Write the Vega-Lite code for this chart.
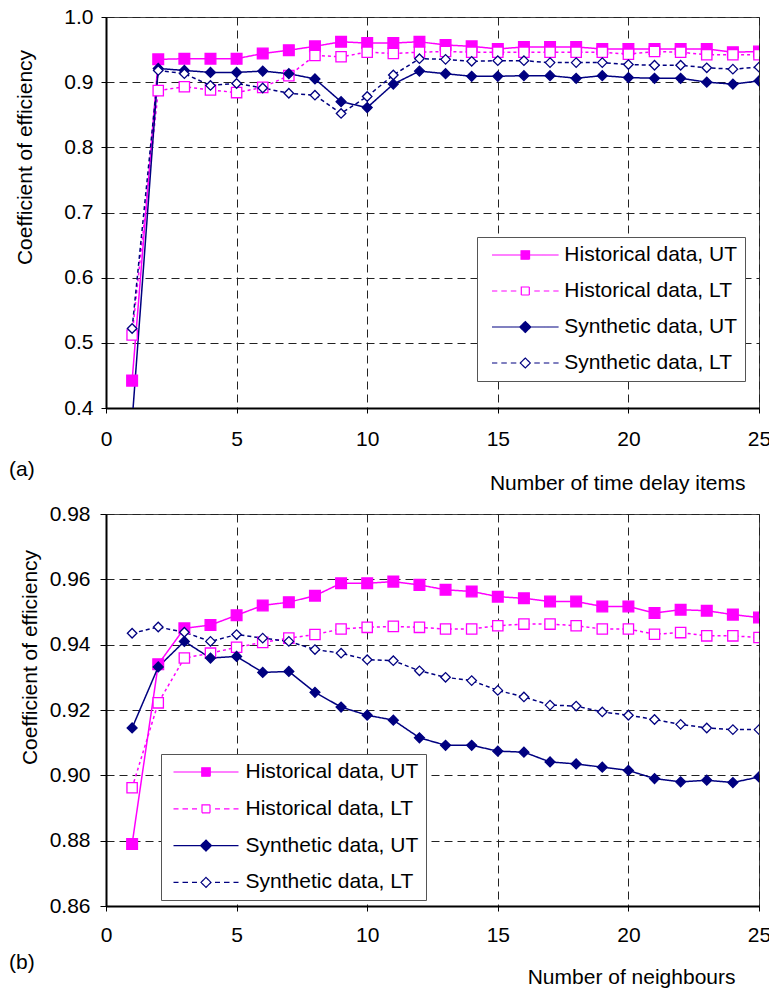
{
  "$schema": "https://vega.github.io/schema/vega-lite/v6.json",
  "background": "white",
  "padding": {"left": 8, "top": 5, "right": 0, "bottom": 0},
  "spacing": 8,
  "bounds": "full",
  "config": {
    "font": "Liberation Sans",
    "view": {"stroke": "#444", "strokeWidth": 1},
    "axis": {
      "labelFontSize": 21,
      "labelColor": "black",
      "titleFontSize": 21,
      "titleFontWeight": "normal",
      "titleColor": "black",
      "domainColor": "black",
      "domainWidth": 2,
      "tickColor": "black",
      "tickWidth": 1,
      "tickSize": 5,
      "grid": true,
      "gridColor": "#222",
      "gridDash": [8, 5],
      "gridWidth": 1,
      "labelFlush": false,
      "labelOverlap": false
    },
    "title": {"fontSize": 21, "fontWeight": "normal", "color": "black"}
  },
  "resolve": {
    "scale": {"color": "independent", "shape": "independent", "strokeDash": "independent", "fill": "independent", "size": "independent"},
    "legend": {"color": "independent"}
  },
  "datasets": {
    "a": [
      {"series": "Historical data, UT", "x": 1, "y": 0.442},
      {"series": "Historical data, UT", "x": 2, "y": 0.935},
      {"series": "Historical data, UT", "x": 3, "y": 0.936},
      {"series": "Historical data, UT", "x": 4, "y": 0.936},
      {"series": "Historical data, UT", "x": 5, "y": 0.936},
      {"series": "Historical data, UT", "x": 6, "y": 0.944},
      {"series": "Historical data, UT", "x": 7, "y": 0.949},
      {"series": "Historical data, UT", "x": 8, "y": 0.955},
      {"series": "Historical data, UT", "x": 9, "y": 0.962},
      {"series": "Historical data, UT", "x": 10, "y": 0.960},
      {"series": "Historical data, UT", "x": 11, "y": 0.960},
      {"series": "Historical data, UT", "x": 12, "y": 0.962},
      {"series": "Historical data, UT", "x": 13, "y": 0.957},
      {"series": "Historical data, UT", "x": 14, "y": 0.955},
      {"series": "Historical data, UT", "x": 15, "y": 0.951},
      {"series": "Historical data, UT", "x": 16, "y": 0.954},
      {"series": "Historical data, UT", "x": 17, "y": 0.954},
      {"series": "Historical data, UT", "x": 18, "y": 0.954},
      {"series": "Historical data, UT", "x": 19, "y": 0.951},
      {"series": "Historical data, UT", "x": 20, "y": 0.951},
      {"series": "Historical data, UT", "x": 21, "y": 0.951},
      {"series": "Historical data, UT", "x": 22, "y": 0.951},
      {"series": "Historical data, UT", "x": 23, "y": 0.951},
      {"series": "Historical data, UT", "x": 24, "y": 0.946},
      {"series": "Historical data, UT", "x": 25, "y": 0.947},
      {"series": "Historical data, LT", "x": 1, "y": 0.512},
      {"series": "Historical data, LT", "x": 2, "y": 0.887},
      {"series": "Historical data, LT", "x": 3, "y": 0.893},
      {"series": "Historical data, LT", "x": 4, "y": 0.888},
      {"series": "Historical data, LT", "x": 5, "y": 0.884},
      {"series": "Historical data, LT", "x": 6, "y": 0.892},
      {"series": "Historical data, LT", "x": 7, "y": 0.910},
      {"series": "Historical data, LT", "x": 8, "y": 0.941},
      {"series": "Historical data, LT", "x": 9, "y": 0.939},
      {"series": "Historical data, LT", "x": 10, "y": 0.946},
      {"series": "Historical data, LT", "x": 11, "y": 0.944},
      {"series": "Historical data, LT", "x": 12, "y": 0.946},
      {"series": "Historical data, LT", "x": 13, "y": 0.947},
      {"series": "Historical data, LT", "x": 14, "y": 0.946},
      {"series": "Historical data, LT", "x": 15, "y": 0.946},
      {"series": "Historical data, LT", "x": 16, "y": 0.946},
      {"series": "Historical data, LT", "x": 17, "y": 0.946},
      {"series": "Historical data, LT", "x": 18, "y": 0.946},
      {"series": "Historical data, LT", "x": 19, "y": 0.946},
      {"series": "Historical data, LT", "x": 20, "y": 0.943},
      {"series": "Historical data, LT", "x": 21, "y": 0.947},
      {"series": "Historical data, LT", "x": 22, "y": 0.946},
      {"series": "Historical data, LT", "x": 23, "y": 0.942},
      {"series": "Historical data, LT", "x": 24, "y": 0.942},
      {"series": "Historical data, LT", "x": 25, "y": 0.942},
      {"series": "Synthetic data, UT", "x": 1, "y": 0.38},
      {"series": "Synthetic data, UT", "x": 2, "y": 0.921},
      {"series": "Synthetic data, UT", "x": 3, "y": 0.918},
      {"series": "Synthetic data, UT", "x": 4, "y": 0.915},
      {"series": "Synthetic data, UT", "x": 5, "y": 0.915},
      {"series": "Synthetic data, UT", "x": 6, "y": 0.917},
      {"series": "Synthetic data, UT", "x": 7, "y": 0.913},
      {"series": "Synthetic data, UT", "x": 8, "y": 0.905},
      {"series": "Synthetic data, UT", "x": 9, "y": 0.870},
      {"series": "Synthetic data, UT", "x": 10, "y": 0.861},
      {"series": "Synthetic data, UT", "x": 11, "y": 0.897},
      {"series": "Synthetic data, UT", "x": 12, "y": 0.917},
      {"series": "Synthetic data, UT", "x": 13, "y": 0.913},
      {"series": "Synthetic data, UT", "x": 14, "y": 0.909},
      {"series": "Synthetic data, UT", "x": 15, "y": 0.909},
      {"series": "Synthetic data, UT", "x": 16, "y": 0.910},
      {"series": "Synthetic data, UT", "x": 17, "y": 0.910},
      {"series": "Synthetic data, UT", "x": 18, "y": 0.906},
      {"series": "Synthetic data, UT", "x": 19, "y": 0.910},
      {"series": "Synthetic data, UT", "x": 20, "y": 0.907},
      {"series": "Synthetic data, UT", "x": 21, "y": 0.906},
      {"series": "Synthetic data, UT", "x": 22, "y": 0.906},
      {"series": "Synthetic data, UT", "x": 23, "y": 0.900},
      {"series": "Synthetic data, UT", "x": 24, "y": 0.897},
      {"series": "Synthetic data, UT", "x": 25, "y": 0.902},
      {"series": "Synthetic data, LT", "x": 1, "y": 0.522},
      {"series": "Synthetic data, LT", "x": 2, "y": 0.918},
      {"series": "Synthetic data, LT", "x": 3, "y": 0.913},
      {"series": "Synthetic data, LT", "x": 4, "y": 0.895},
      {"series": "Synthetic data, LT", "x": 5, "y": 0.898},
      {"series": "Synthetic data, LT", "x": 6, "y": 0.891},
      {"series": "Synthetic data, LT", "x": 7, "y": 0.883},
      {"series": "Synthetic data, LT", "x": 8, "y": 0.880},
      {"series": "Synthetic data, LT", "x": 9, "y": 0.852},
      {"series": "Synthetic data, LT", "x": 10, "y": 0.878},
      {"series": "Synthetic data, LT", "x": 11, "y": 0.911},
      {"series": "Synthetic data, LT", "x": 12, "y": 0.936},
      {"series": "Synthetic data, LT", "x": 13, "y": 0.935},
      {"series": "Synthetic data, LT", "x": 14, "y": 0.932},
      {"series": "Synthetic data, LT", "x": 15, "y": 0.933},
      {"series": "Synthetic data, LT", "x": 16, "y": 0.933},
      {"series": "Synthetic data, LT", "x": 17, "y": 0.930},
      {"series": "Synthetic data, LT", "x": 18, "y": 0.930},
      {"series": "Synthetic data, LT", "x": 19, "y": 0.930},
      {"series": "Synthetic data, LT", "x": 20, "y": 0.927},
      {"series": "Synthetic data, LT", "x": 21, "y": 0.926},
      {"series": "Synthetic data, LT", "x": 22, "y": 0.926},
      {"series": "Synthetic data, LT", "x": 23, "y": 0.922},
      {"series": "Synthetic data, LT", "x": 24, "y": 0.920},
      {"series": "Synthetic data, LT", "x": 25, "y": 0.923}
    ],
    "b": [
      {"series": "Historical data, UT", "x": 1, "y": 0.879},
      {"series": "Historical data, UT", "x": 2, "y": 0.934},
      {"series": "Historical data, UT", "x": 3, "y": 0.945},
      {"series": "Historical data, UT", "x": 4, "y": 0.946},
      {"series": "Historical data, UT", "x": 5, "y": 0.949},
      {"series": "Historical data, UT", "x": 6, "y": 0.952},
      {"series": "Historical data, UT", "x": 7, "y": 0.953},
      {"series": "Historical data, UT", "x": 8, "y": 0.955},
      {"series": "Historical data, UT", "x": 9, "y": 0.9588},
      {"series": "Historical data, UT", "x": 10, "y": 0.9588},
      {"series": "Historical data, UT", "x": 11, "y": 0.9593},
      {"series": "Historical data, UT", "x": 12, "y": 0.9583},
      {"series": "Historical data, UT", "x": 13, "y": 0.9568},
      {"series": "Historical data, UT", "x": 14, "y": 0.9563},
      {"series": "Historical data, UT", "x": 15, "y": 0.9547},
      {"series": "Historical data, UT", "x": 16, "y": 0.9542},
      {"series": "Historical data, UT", "x": 17, "y": 0.9532},
      {"series": "Historical data, UT", "x": 18, "y": 0.9532},
      {"series": "Historical data, UT", "x": 19, "y": 0.9517},
      {"series": "Historical data, UT", "x": 20, "y": 0.9517},
      {"series": "Historical data, UT", "x": 21, "y": 0.9497},
      {"series": "Historical data, UT", "x": 22, "y": 0.9507},
      {"series": "Historical data, UT", "x": 23, "y": 0.9504},
      {"series": "Historical data, UT", "x": 24, "y": 0.9492},
      {"series": "Historical data, UT", "x": 25, "y": 0.9483},
      {"series": "Historical data, LT", "x": 1, "y": 0.8962},
      {"series": "Historical data, LT", "x": 2, "y": 0.9222},
      {"series": "Historical data, LT", "x": 3, "y": 0.9359},
      {"series": "Historical data, LT", "x": 4, "y": 0.9374},
      {"series": "Historical data, LT", "x": 5, "y": 0.9392},
      {"series": "Historical data, LT", "x": 6, "y": 0.9407},
      {"series": "Historical data, LT", "x": 7, "y": 0.942},
      {"series": "Historical data, LT", "x": 8, "y": 0.9431},
      {"series": "Historical data, LT", "x": 9, "y": 0.9448},
      {"series": "Historical data, LT", "x": 10, "y": 0.9453},
      {"series": "Historical data, LT", "x": 11, "y": 0.9456},
      {"series": "Historical data, LT", "x": 12, "y": 0.9453},
      {"series": "Historical data, LT", "x": 13, "y": 0.9448},
      {"series": "Historical data, LT", "x": 14, "y": 0.9448},
      {"series": "Historical data, LT", "x": 15, "y": 0.9458},
      {"series": "Historical data, LT", "x": 16, "y": 0.9463},
      {"series": "Historical data, LT", "x": 17, "y": 0.9463},
      {"series": "Historical data, LT", "x": 18, "y": 0.9458},
      {"series": "Historical data, LT", "x": 19, "y": 0.9448},
      {"series": "Historical data, LT", "x": 20, "y": 0.9448},
      {"series": "Historical data, LT", "x": 21, "y": 0.9432},
      {"series": "Historical data, LT", "x": 22, "y": 0.9437},
      {"series": "Historical data, LT", "x": 23, "y": 0.9427},
      {"series": "Historical data, LT", "x": 24, "y": 0.9427},
      {"series": "Historical data, LT", "x": 25, "y": 0.9422},
      {"series": "Synthetic data, UT", "x": 1, "y": 0.9145},
      {"series": "Synthetic data, UT", "x": 2, "y": 0.9332},
      {"series": "Synthetic data, UT", "x": 3, "y": 0.941},
      {"series": "Synthetic data, UT", "x": 4, "y": 0.9359},
      {"series": "Synthetic data, UT", "x": 5, "y": 0.9364},
      {"series": "Synthetic data, UT", "x": 6, "y": 0.9315},
      {"series": "Synthetic data, UT", "x": 7, "y": 0.9318},
      {"series": "Synthetic data, UT", "x": 8, "y": 0.9254},
      {"series": "Synthetic data, UT", "x": 9, "y": 0.9209},
      {"series": "Synthetic data, UT", "x": 10, "y": 0.9184},
      {"series": "Synthetic data, UT", "x": 11, "y": 0.9169},
      {"series": "Synthetic data, UT", "x": 12, "y": 0.9115},
      {"series": "Synthetic data, UT", "x": 13, "y": 0.9092},
      {"series": "Synthetic data, UT", "x": 14, "y": 0.9092},
      {"series": "Synthetic data, UT", "x": 15, "y": 0.9074},
      {"series": "Synthetic data, UT", "x": 16, "y": 0.9071},
      {"series": "Synthetic data, UT", "x": 17, "y": 0.9041},
      {"series": "Synthetic data, UT", "x": 18, "y": 0.9035},
      {"series": "Synthetic data, UT", "x": 19, "y": 0.9025},
      {"series": "Synthetic data, UT", "x": 20, "y": 0.9015},
      {"series": "Synthetic data, UT", "x": 21, "y": 0.899},
      {"series": "Synthetic data, UT", "x": 22, "y": 0.898},
      {"series": "Synthetic data, UT", "x": 23, "y": 0.8985},
      {"series": "Synthetic data, UT", "x": 24, "y": 0.8978},
      {"series": "Synthetic data, UT", "x": 25, "y": 0.8995},
      {"series": "Synthetic data, LT", "x": 1, "y": 0.9435},
      {"series": "Synthetic data, LT", "x": 2, "y": 0.9454},
      {"series": "Synthetic data, LT", "x": 3, "y": 0.9438},
      {"series": "Synthetic data, LT", "x": 4, "y": 0.941},
      {"series": "Synthetic data, LT", "x": 5, "y": 0.9431},
      {"series": "Synthetic data, LT", "x": 6, "y": 0.942},
      {"series": "Synthetic data, LT", "x": 7, "y": 0.941},
      {"series": "Synthetic data, LT", "x": 8, "y": 0.9385},
      {"series": "Synthetic data, LT", "x": 9, "y": 0.9374},
      {"series": "Synthetic data, LT", "x": 10, "y": 0.9354},
      {"series": "Synthetic data, LT", "x": 11, "y": 0.9351},
      {"series": "Synthetic data, LT", "x": 12, "y": 0.932},
      {"series": "Synthetic data, LT", "x": 13, "y": 0.930},
      {"series": "Synthetic data, LT", "x": 14, "y": 0.929},
      {"series": "Synthetic data, LT", "x": 15, "y": 0.926},
      {"series": "Synthetic data, LT", "x": 16, "y": 0.924},
      {"series": "Synthetic data, LT", "x": 17, "y": 0.9215},
      {"series": "Synthetic data, LT", "x": 18, "y": 0.9212},
      {"series": "Synthetic data, LT", "x": 19, "y": 0.9194},
      {"series": "Synthetic data, LT", "x": 20, "y": 0.9184},
      {"series": "Synthetic data, LT", "x": 21, "y": 0.9171},
      {"series": "Synthetic data, LT", "x": 22, "y": 0.9156},
      {"series": "Synthetic data, LT", "x": 23, "y": 0.9145},
      {"series": "Synthetic data, LT", "x": 24, "y": 0.914},
      {"series": "Synthetic data, LT", "x": 25, "y": 0.914}
    ]
  },
  "vconcat": [
    {
      "width": 653,
      "height": 391,
      "data": {"name": "a"},
      "title": {"text": "(a)", "orient": "bottom", "anchor": "start", "frame": "bounds", "offset": -34, "dx": -5, "fontSize": 21},
      "encoding": {
        "x": {
          "field": "x", "type": "quantitative",
          "scale": {"domain": [0, 25], "nice": false, "zero": false},
          "axis": {"values": [0, 5, 10, 15, 20, 25], "title": "Number of time delay items", "titleX": 639, "titleY": 75, "titleAlign": "right", "titleBaseline": "middle", "labelPadding": 15}
        },
        "y": {
          "field": "y", "type": "quantitative",
          "scale": {"domain": [0.4, 1.0], "nice": false, "zero": false},
          "axis": {"values": [0.4, 0.5, 0.6, 0.7, 0.8, 0.9, 1.0], "format": ".1f", "title": "Coefficient of efficiency", "titleX": -81, "titleY": 140, "titleAngle": 270, "titleAlign": "center", "titleBaseline": "middle", "labelPadding": 8}
        },
        "color": {
          "field": "series", "type": "nominal",
          "scale": {"domain": ["Historical data, UT", "Historical data, LT", "Synthetic data, UT", "Synthetic data, LT"], "range": ["#FF00FF", "#FF00FF", "#000080", "#000080"]},
          "legend": {
            "orient": "none", "legendX": 371, "legendY": 220, "title": null, "direction": "vertical",
            "padding": 7.5, "strokeColor": "#555", "fillColor": "white",
            "labelFontSize": 21, "labelColor": "black", "labelLimit": 0,
            "symbolSize": 100, "symbolOffset": 30.3, "labelOffset": 28.5, "rowPadding": 14, "symbolStrokeWidth": 1.2,
            "encoding": {"symbols": {
              "shape": {"value": {"expr": "datum.value === 'Historical data, UT' ? 'M-6.66,0H6.66M-0.85,-0.85H0.85V0.85H-0.85Z' : datum.value === 'Historical data, LT' ? 'M-6.66,0H-5.6M-4.8,0H-3.7M-2.9,0H-1.8M1.8,0H2.9M3.7,0H4.8M5.6,0H6.66M-0.8,-0.8H0.8V0.8H-0.8Z' : datum.value === 'Synthetic data, UT' ? 'M-6.66,0H6.66M-1.1,0L0,-1.1L1.1,0L0,1.1Z' : 'M-6.66,0H-5.6M-4.8,0H-3.7M-2.9,0H-1.8M1.8,0H2.9M3.7,0H4.8M5.6,0H6.66M-1,0L0,-1L1,0L0,1Z'"}},
              "fill": {"value": {"expr": "datum.value === 'Historical data, UT' ? '#FF00FF' : datum.value === 'Synthetic data, UT' ? '#000080' : 'white'"}},
              "strokeDash": {"value": [1, 0]},
              "strokeWidth": {"value": 1.2},
              "opacity": {"value": 1},
              "fillOpacity": {"value": 1}
            }}
          }
        }
      },
      "layer": [
        {
          "mark": {"type": "line", "strokeWidth": 1.5, "clip": true},
          "encoding": {
            "strokeDash": {"field": "series", "type": "nominal", "legend": null,
              "scale": {"domain": ["Synthetic data, LT", "Synthetic data, UT", "Historical data, LT", "Historical data, UT"], "range": [[4, 3], [1, 0], [3, 3], [1, 0]]}}
          }
        },
        {
          "mark": {"type": "point", "clip": true, "strokeWidth": 1.3, "opacity": 1, "fillOpacity": 1},
          "encoding": {
            "shape": {"field": "series", "type": "nominal", "legend": null,
              "scale": {"domain": ["Synthetic data, LT", "Synthetic data, UT", "Historical data, LT", "Historical data, UT"], "range": ["diamond", "diamond", "square", "square"]}},
            "fill": {"field": "series", "type": "nominal", "legend": null,
              "scale": {"domain": ["Synthetic data, LT", "Synthetic data, UT", "Historical data, LT", "Historical data, UT"], "range": ["white", "#000080", "white", "#FF00FF"]}},
            "size": {"field": "series", "type": "nominal", "legend": null,
              "scale": {"domain": ["Synthetic data, LT", "Synthetic data, UT", "Historical data, LT", "Historical data, UT"], "range": [90, 115, 62, 72]}}
          }
        }
      ]
    },
    {
      "width": 653,
      "height": 392,
      "data": {"name": "b"},
      "title": {"text": "(b)", "orient": "bottom", "anchor": "start", "frame": "bounds", "offset": -35, "dx": -10, "fontSize": 21},
      "encoding": {
        "x": {
          "field": "x", "type": "quantitative",
          "scale": {"domain": [0, 25], "nice": false, "zero": false},
          "axis": {"values": [0, 5, 10, 15, 20, 25], "title": "Number of neighbours", "titleX": 629, "titleY": 71, "titleAlign": "right", "titleBaseline": "middle", "labelPadding": 13}
        },
        "y": {
          "field": "y", "type": "quantitative",
          "scale": {"domain": [0.86, 0.98], "nice": false, "zero": false},
          "axis": {"values": [0.86, 0.88, 0.9, 0.92, 0.94, 0.96, 0.98], "format": ".2f", "title": "Coefficient of efficiency", "titleX": -76, "titleY": 143, "titleAngle": 270, "titleAlign": "center", "titleBaseline": "middle", "labelPadding": 10, "tickSize": 6}
        },
        "color": {
          "field": "series", "type": "nominal",
          "scale": {"domain": ["Historical data, UT", "Historical data, LT", "Synthetic data, UT", "Synthetic data, LT"], "range": ["#FF00FF", "#FF00FF", "#000080", "#000080"]},
          "legend": {
            "orient": "none", "legendX": 55, "legendY": 240, "title": null, "direction": "vertical",
            "padding": 7.5, "strokeColor": "#555", "fillColor": "white",
            "labelFontSize": 21, "labelColor": "black", "labelLimit": 0,
            "symbolSize": 100, "symbolOffset": 27, "labelOffset": 29, "rowPadding": 14.8, "symbolStrokeWidth": 1.2,
            "encoding": {"symbols": {
              "shape": {"value": {"expr": "datum.value === 'Historical data, UT' ? 'M-6.5,0H6.5M-0.85,-0.85H0.85V0.85H-0.85Z' : datum.value === 'Historical data, LT' ? 'M-6.5,0H-5.5M-4.7,0H-3.6M-2.8,0H-1.8M1.8,0H2.8M3.6,0H4.7M5.5,0H6.5M-0.8,-0.8H0.8V0.8H-0.8Z' : datum.value === 'Synthetic data, UT' ? 'M-6.5,0H6.5M-1.1,0L0,-1.1L1.1,0L0,1.1Z' : 'M-6.5,0H-5.5M-4.7,0H-3.6M-2.8,0H-1.8M1.8,0H2.8M3.6,0H4.7M5.5,0H6.5M-1,0L0,-1L1,0L0,1Z'"}},
              "fill": {"value": {"expr": "datum.value === 'Historical data, UT' ? '#FF00FF' : datum.value === 'Synthetic data, UT' ? '#000080' : 'white'"}},
              "strokeDash": {"value": [1, 0]},
              "strokeWidth": {"value": 1.2},
              "opacity": {"value": 1},
              "fillOpacity": {"value": 1}
            }}
          }
        }
      },
      "layer": [
        {
          "mark": {"type": "line", "strokeWidth": 1.5, "clip": true},
          "encoding": {
            "strokeDash": {"field": "series", "type": "nominal", "legend": null,
              "scale": {"domain": ["Synthetic data, LT", "Synthetic data, UT", "Historical data, LT", "Historical data, UT"], "range": [[4, 3], [1, 0], [3, 3], [1, 0]]}}
          }
        },
        {
          "mark": {"type": "point", "clip": true, "strokeWidth": 1.3, "opacity": 1, "fillOpacity": 1},
          "encoding": {
            "shape": {"field": "series", "type": "nominal", "legend": null,
              "scale": {"domain": ["Synthetic data, LT", "Synthetic data, UT", "Historical data, LT", "Historical data, UT"], "range": ["diamond", "diamond", "square", "square"]}},
            "fill": {"field": "series", "type": "nominal", "legend": null,
              "scale": {"domain": ["Synthetic data, LT", "Synthetic data, UT", "Historical data, LT", "Historical data, UT"], "range": ["white", "#000080", "white", "#FF00FF"]}},
            "size": {"field": "series", "type": "nominal", "legend": null,
              "scale": {"domain": ["Synthetic data, LT", "Synthetic data, UT", "Historical data, LT", "Historical data, UT"], "range": [90, 115, 62, 72]}}
          }
        }
      ]
    }
  ]
}
